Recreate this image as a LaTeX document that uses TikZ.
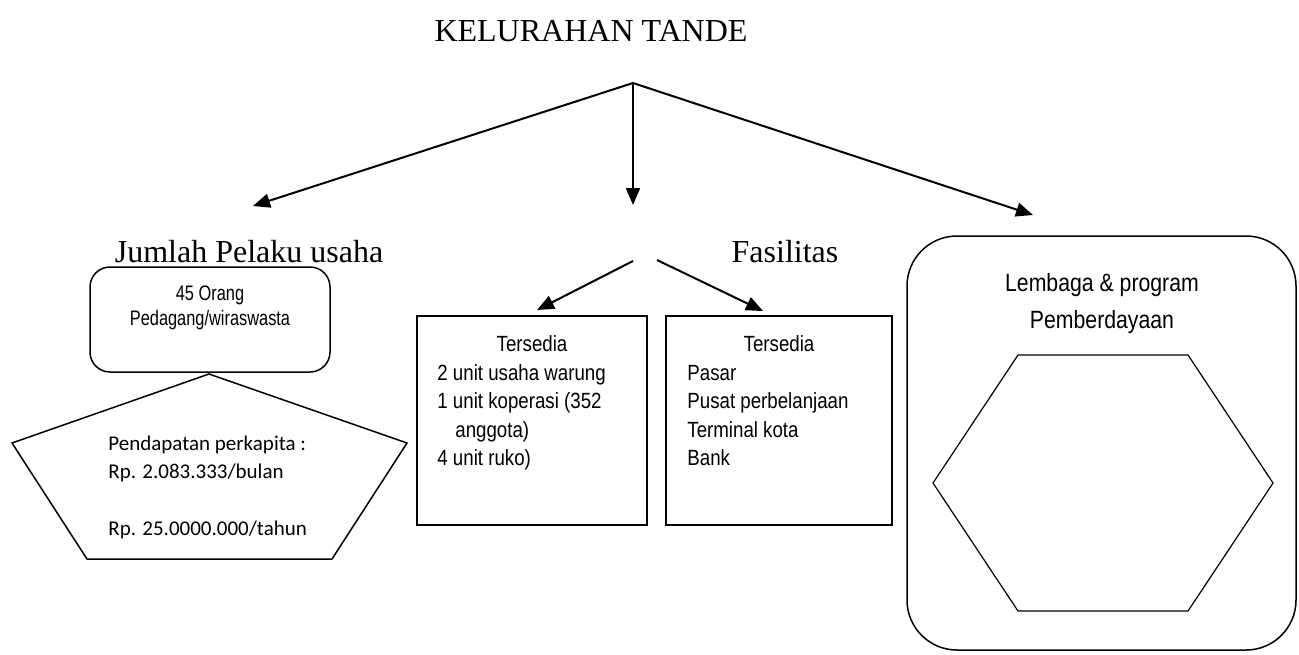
\documentclass[tikz,border=0pt]{standalone}
\usepackage{fontspec}
\setmainfont{Liberation Serif}
\newfontfamily\narrowfont{Liberation Sans}[FakeStretch=0.85]
\newfontfamily\slimfont{Liberation Sans}[FakeStretch=0.78]
\newfontfamily\calfont{Carlito}
\usetikzlibrary{arrows.meta}

\begin{document}
\begin{tikzpicture}[x=0.5pt,y=-0.5pt,
    arrow/.style={draw=black, line width=1pt, -{Triangle[length=8.5pt,width=7pt]}},
    box/.style={draw=black, line width=0.75pt},
    bigtext/.style={font=\fontsize{16}{18}\selectfont, anchor=base},
    boxtext/.style={font=\narrowfont\fontsize{11}{13}\selectfont},
    pentext/.style={font=\calfont\fontsize{10.5}{12}\selectfont, anchor=base west}]
    \tikzstyle{every node}+=[inner sep=0pt]
    \useasboundingbox (0,0) rectangle (1299,654);
    % title and main arrows
    \node[bigtext] (title) at (591,41) {KELURAHAN TANDE};
    \coordinate (apex) at (633,83);
    \coordinate (tipL) at (253,206);
    \coordinate (tipM) at (633,205);
    \coordinate (tipR) at (1033,215);
    \draw[arrow] (apex) -- (tipL);
    \draw[arrow] (apex) -- (tipM);
    \draw[arrow] (apex) -- (tipR);
    % headings
    \node[bigtext] (jumlah) at (249,262) {Jumlah Pelaku usaha};
    \node[bigtext] (fasilitas) at (785,262) {Fasilitas};
    \coordinate (forkL) at (633,261);
    \coordinate (forkR) at (657,260);
    \coordinate (tipA) at (537,310);
    \coordinate (tipB) at (763,311);
    \draw[arrow] (forkL) -- (tipA);
    \draw[arrow] (forkR) -- (tipB);
    % pelaku usaha
    \node[box, rounded corners=10pt, minimum width=120pt, minimum height=52.5pt] (pelaku) at (210,319.5) {};
    \node[boxtext, anchor=base, font=\slimfont\fontsize{10.5}{12}\selectfont] (orang) at (210,300) {45 Orang};
    \node[boxtext, anchor=base, font=\slimfont\fontsize{10.5}{12}\selectfont] (pedagang) at (210,325) {Pedagang/wiraswasta};
    \draw[box] (209,374) -- (407,443) -- (332,559) -- (87,559) -- (12,443) -- cycle;
    \node[pentext] (pend) at (108,450) {Pendapatan perkapita :};
    \node[pentext] (bulan) at (108,478) {Rp. 2.083.333/bulan};
    \node[pentext] (tahun) at (108,535) {Rp. 25.0000.000/tahun};
    % tersedia usaha
    \node[box, minimum width=115pt, minimum height=104.5pt] (usaha) at (532,420.5) {};
    \node[boxtext, anchor=base] (tsdA) at (532,351) {Tersedia};
    \node[boxtext, anchor=base west] (warung) at (437,380) {2 unit usaha warung};
    \node[boxtext, anchor=base west] (koperasi) at (437,408) {1 unit koperasi (352};
    \node[boxtext, anchor=base west] (anggota) at (455,437) {anggota)};
    \node[boxtext, anchor=base west] (ruko) at (437,465) {4 unit ruko)};
    % tersedia fasilitas
    \node[box, minimum width=113pt, minimum height=104.5pt] (fasil) at (779,420.5) {};
    \node[boxtext, anchor=base] (tsdB) at (779,351) {Tersedia};
    \node[boxtext, anchor=base west] (pasar) at (687,380) {Pasar};
    \node[boxtext, anchor=base west] (pusat) at (687,408) {Pusat perbelanjaan};
    \node[boxtext, anchor=base west] (terminal) at (687,437) {Terminal kota};
    \node[boxtext, anchor=base west] (bank) at (687,465) {Bank};
    % lembaga
    \node[box, rounded corners=25pt, minimum width=194.5pt, minimum height=207pt] (lembaga) at (1101.5,443) {};
    \node[boxtext, anchor=base, font=\narrowfont\fontsize{12.5}{14}\selectfont] (lembA) at (1102,291) {Lembaga \& program};
    \node[boxtext, anchor=base, font=\narrowfont\fontsize{12.5}{14}\selectfont] (lembB) at (1102,328) {Pemberdayaan};
    \draw[box, line width=0.6pt] (1018,355) -- (1188,355) -- (1273,483) -- (1188,611) -- (1018,611) -- (933,483) -- cycle;
\end{tikzpicture}
\end{document}
